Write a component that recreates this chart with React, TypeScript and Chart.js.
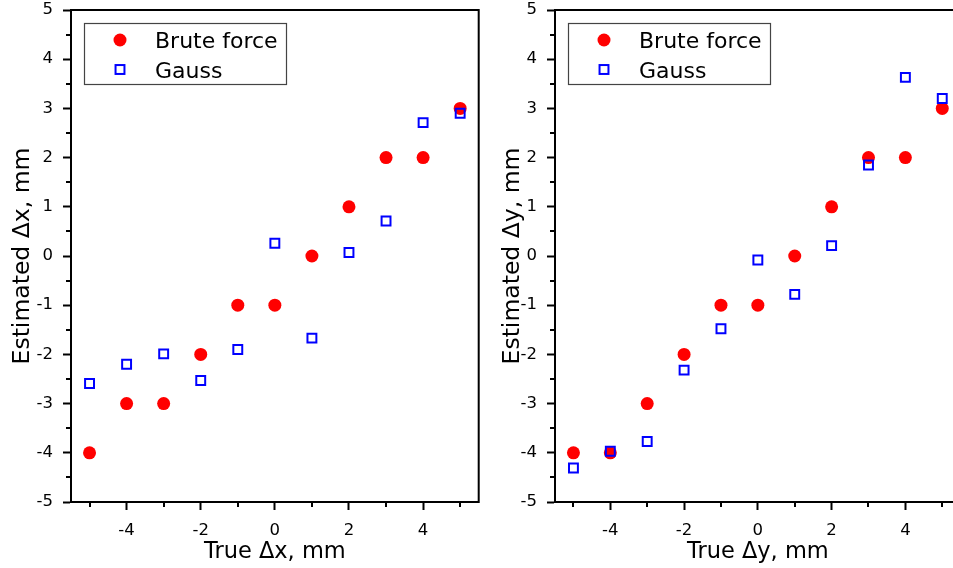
import { useEffect, useRef } from 'react';
import { Chart, registerables } from 'chart.js';

Chart.register(...registerables);

// ---- data ----
const TRUE_SHIFTS = [-5, -4, -3, -2, -1, 0, 1, 2, 3, 4, 5];
const DX_BRUTE = [-4, -3, -3, -2, -1, -1, 0, 1, 2, 2, 3];
const DX_GAUSS = [-2.59, -2.2, -1.99, -2.53, -1.9, 0.26, -1.67, 0.07, 0.71, 2.71, 2.9];
const DY_BRUTE = [-4, -4, -3, -2, -1, -1, 0, 1, 2, 2, 3];
const DY_GAUSS = [-4.31, -3.97, -3.77, -2.32, -1.48, -0.08, -0.78, 0.21, 1.85, 3.63, 3.2];
const SERIES_NAMES = ['Brute force', 'Gauss'];
const X_TICKS = [-4, -2, 0, 2, 4];
const X_MINOR_TICKS = [-5, -3, -1, 1, 3, 5];
const Y_TICKS = [-5, -4, -3, -2, -1, 0, 1, 2, 3, 4, 5];
const Y_MINOR_TICKS = [-4.5, -3.5, -2.5, -1.5, -0.5, 0.5, 1.5, 2.5, 3.5, 4.5];

const FONT = 'DejaVu Sans';

const framePlugin = {
  id: 'frameAndLegend',
  afterDraw(chart: any) {
    const { ctx, chartArea: a, scales } = chart;
    const xs = scales.x;
    const ys = scales.y;
    ctx.save();
    ctx.strokeStyle = '#000';
    ctx.lineWidth = 2;
    ctx.beginPath();
    for (const v of X_MINOR_TICKS) {
      const px = Math.round(xs.getPixelForValue(v));
      ctx.moveTo(px, a.bottom);
      ctx.lineTo(px, a.bottom + 5);
    }
    for (const v of Y_MINOR_TICKS) {
      const py = Math.round(ys.getPixelForValue(v));
      ctx.moveTo(a.left, py);
      ctx.lineTo(a.left - 5, py);
    }
    ctx.stroke();
    ctx.strokeRect(a.left, a.top, a.right - a.left, a.bottom - a.top);

    // legend box
    const bx = a.left + 13.5;
    const by = a.top + 13.5;
    ctx.lineWidth = 1.2;
    ctx.strokeStyle = '#444';
    ctx.fillStyle = '#fff';
    ctx.fillRect(bx, by, 202, 61);
    ctx.strokeRect(bx, by, 202, 61);

    const ds = chart.data.datasets;
    // Brute force marker
    const b = ds[1];
    ctx.fillStyle = b.backgroundColor;
    ctx.beginPath();
    ctx.arc(a.left + 49, a.top + 30, b.pointRadius, 0, Math.PI * 2);
    ctx.fill();
    // Gauss marker
    const g = ds[0];
    const side = g.pointRadius * Math.SQRT2;
    ctx.strokeStyle = g.borderColor;
    ctx.lineWidth = g.borderWidth;
    ctx.strokeRect(a.left + 49 - side / 2, a.top + 59.5 - side / 2, side, side);

    ctx.fillStyle = '#000';
    ctx.font = `22px "${FONT}"`;
    ctx.textBaseline = 'alphabetic';
    ctx.textAlign = 'left';
    ctx.fillText(b.label, a.left + 84, a.top + 38);
    ctx.fillText(g.label, a.left + 84, a.top + 68);
    ctx.restore();
  },
};

function makeConfig(brute: number[], gauss: number[], xTitle: string, yTitle: string, yWidth: number): any {
  return {
    type: 'scatter',
    data: {
      datasets: [
        {
          label: SERIES_NAMES[1],
          data: TRUE_SHIFTS.map((x, i) => ({ x, y: gauss[i] })),
          pointStyle: 'rect',
          pointRadius: 6.3,
          backgroundColor: 'rgba(0,0,0,0)',
          borderColor: '#0000ff',
          borderWidth: 2,
          order: 0,
        },
        {
          label: SERIES_NAMES[0],
          data: TRUE_SHIFTS.map((x, i) => ({ x, y: brute[i] })),
          pointStyle: 'circle',
          pointRadius: 6.5,
          backgroundColor: '#ff0000',
          borderColor: '#ff0000',
          borderWidth: 0,
          order: 1,
        },
      ],
    },
    options: {
      responsive: false,
      animation: false,
      events: [],
      layout: { padding: { top: 10, right: 3, left: 0, bottom: 0 } },
      plugins: { legend: { display: false }, tooltip: { enabled: false } },
      scales: {
        x: {
          type: 'linear',
          min: -5.5,
          max: 5.5,
          afterBuildTicks: (s: any) => {
            s.ticks = X_TICKS.map((v) => ({ value: v }));
          },
          afterFit: (s: any) => {
            s.height = 66;
            s.paddingLeft = 0;
            s.paddingRight = 0;
          },
          grid: { drawOnChartArea: false, tickLength: 8, tickWidth: 2, tickColor: '#000' },
          border: { display: true, color: '#000', width: 2 },
          ticks: {
            color: '#000',
            font: { family: FONT, size: 16.5 },
            padding: 11,
            autoSkip: false,
            maxRotation: 0,
          },
          title: {
            display: true,
            text: xTitle,
            color: '#000',
            font: { family: FONT, size: 22.5 },
            padding: { top: 0, bottom: 2 },
          },
        },
        y: {
          type: 'linear',
          min: -5,
          max: 5,
          afterBuildTicks: (s: any) => {
            s.ticks = Y_TICKS.map((v) => ({ value: v }));
          },
          afterFit: (s: any) => {
            s.width = yWidth;
            s.paddingTop = 0;
            s.paddingBottom = 0;
          },
          grid: { drawOnChartArea: false, tickLength: 8, tickWidth: 2, tickColor: '#000' },
          border: { display: true, color: '#000', width: 2 },
          ticks: {
            color: '#000',
            font: { family: FONT, size: 16.5 },
            padding: 10,
            autoSkip: false,
          },
          title: {
            display: true,
            text: yTitle,
            color: '#000',
            font: { family: FONT, size: 23.5 },
            padding: { top: 9, bottom: 0 },
          },
        },
      },
    },
    plugins: [framePlugin],
  };
}

export default function App() {
  const leftRef = useRef<HTMLCanvasElement>(null);
  const rightRef = useRef<HTMLCanvasElement>(null);

  useEffect(() => {
    const c1 = new Chart(leftRef.current!, makeConfig(DX_BRUTE, DX_GAUSS, 'True Δx, mm', 'Estimated Δx, mm', 71));
    const c2 = new Chart(rightRef.current!, makeConfig(DY_BRUTE, DY_GAUSS, 'True Δy, mm', 'Estimated Δy, mm', 65));
    return () => {
      c1.destroy();
      c2.destroy();
    };
  }, []);

  return (
    <div
      style={{
        position: 'absolute',
        left: 0,
        top: 0,
        width: 953,
        height: 568,
        overflow: 'hidden',
        background: '#fff',
      }}
    >
      <canvas
        ref={leftRef}
        width={487}
        height={568}
        style={{ position: 'absolute', left: 0, top: 0, width: 487, height: 568 }}
      />
      <canvas
        ref={rightRef}
        width={479}
        height={568}
        style={{ position: 'absolute', left: 490, top: 0, width: 479, height: 568 }}
      />
    </div>
  );
}
